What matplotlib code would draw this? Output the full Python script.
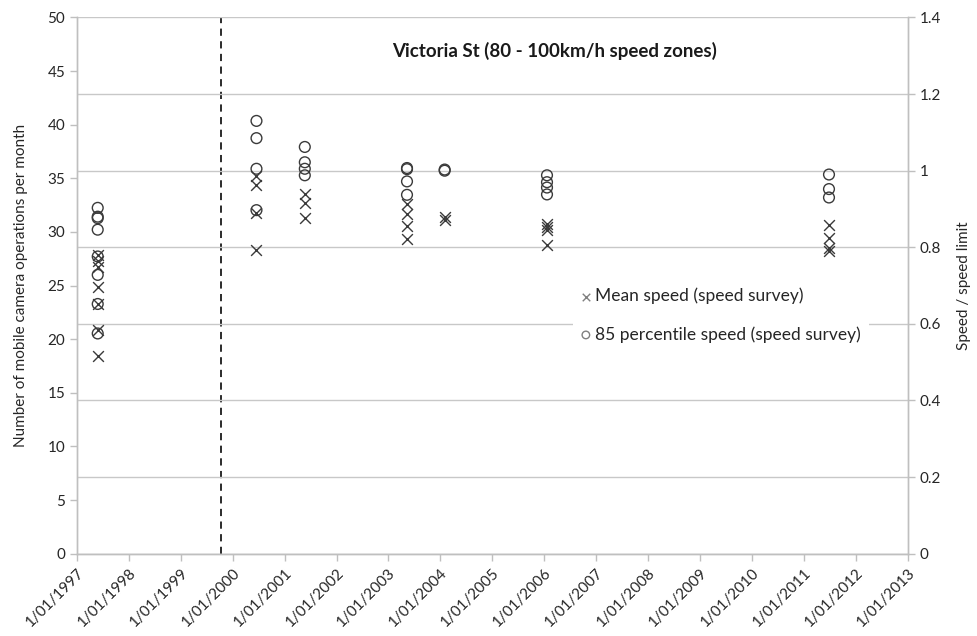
import matplotlib
matplotlib.use("Agg")
import matplotlib.pyplot as plt
import datetime as dt

plt.rcParams['font.family'] = ['Lato', 'DejaVu Sans']

# survey dates (one per cluster)
survey_dates = ["1997-05-27", "2000-06-17", "2001-05-23", "2003-05-12",
                "2004-02-01", "2006-01-21", "2011-06-28"]

# Mean speed / speed limit per survey
mean_speed = [
    [0.780, 0.765, 0.748, 0.697, 0.652, 0.583, 0.515],
    [0.987, 0.962, 0.890, 0.792],
    [0.940, 0.915, 0.876],
    [0.913, 0.887, 0.855, 0.822],
    [0.880, 0.872],
    [0.860, 0.852, 0.846, 0.805],
    [0.857, 0.823, 0.798, 0.790],
]
# 85 percentile speed / speed limit per survey
p85_speed = [
    [0.903, 0.880, 0.876, 0.846, 0.776, 0.728, 0.652, 0.575],
    [1.130, 1.085, 1.005, 0.897],
    [1.062, 1.022, 1.005, 0.988],
    [1.007, 1.004, 0.972, 0.937],
    [1.003, 1.000],
    [0.988, 0.970, 0.956, 0.938],
    [0.990, 0.952, 0.930],
]

event_date = "1999-10-10"
title = "Victoria St (80 - 100km/h speed zones)"
year_ticks = list(range(1997, 2014))
left_ticks = list(range(0, 55, 5))
right_ticks = [0, 0.2, 0.4, 0.6, 0.8, 1.0, 1.2, 1.4]
right_labels = ["0", "0.2", "0.4", "0.6", "0.8", "1", "1.2", "1.4"]

def to_dt(s):
    return dt.datetime.strptime(s, "%Y-%m-%d")

fig = plt.figure(figsize=(9.78, 6.36), dpi=100)
ax = fig.add_axes([0.0787, 0.1294, 0.8493, 0.8431])
ax2 = ax.twinx()

axis_col = "#bfbfbf"
txt_col = "#262626"

mx, my, px, py = [], [], [], []
for d, ms, ps in zip(survey_dates, mean_speed, p85_speed):
    for v in ms:
        mx.append(to_dt(d)); my.append(v)
    for v in ps:
        px.append(to_dt(d)); py.append(v)

ax2.scatter(mx, my, marker='x', s=60, color='#3a3a3a', linewidths=1.0,
            label="Mean speed (speed survey)", zorder=3)
ax2.scatter(px, py, marker='o', s=60, facecolors='none', edgecolors='#3a3a3a',
            linewidths=1.0, label="85 percentile speed (speed survey)", zorder=3)

ax.axvline(to_dt(event_date), color='#1a1a1a', linestyle=(0, (4, 3)), linewidth=1.3)

ax.set_xlim(dt.datetime(1997, 1, 1), dt.datetime(2013, 1, 1))
ax.set_ylim(0, 50)
ax2.set_ylim(0, 1.4)

ax.set_xticks([dt.datetime(y, 1, 1) for y in year_ticks])
ax.set_xticklabels([f"1/01/{y}" for y in year_ticks], rotation=45, ha='right',
                   rotation_mode='anchor', fontsize=11, color=txt_col)
ax.set_yticks(left_ticks)
ax.set_yticklabels([str(t) for t in left_ticks], fontsize=11, color=txt_col)
ax2.set_yticks(right_ticks)
ax2.set_yticklabels(right_labels, fontsize=11, color=txt_col)

ax2.yaxis.grid(True, color='#c8c8c8', linewidth=1.0)
ax2.set_axisbelow(True)

for a in (ax, ax2):
    a.spines['top'].set_visible(False)
    for s in ('left', 'right', 'bottom'):
        a.spines[s].set_color(axis_col)
        a.spines[s].set_linewidth(1.0)
    a.tick_params(axis='both', colors=axis_col, length=5, width=1.0,
                  labelcolor=txt_col, direction='out')

ax.set_ylabel("Number of mobile camera operations per month", fontsize=11,
              color=txt_col, labelpad=14)
ax2.set_ylabel("Speed / speed limit", fontsize=11, color=txt_col, labelpad=12)

ax.text(0.575, 0.937, title, transform=ax.transAxes, ha='center', va='center',
        fontsize=13.5, fontweight='bold', color='#1a1a1a')

leg = ax2.legend(loc='center left', bbox_to_anchor=(0.597, 0.445), frameon=True,
                 facecolor='white', edgecolor='none', framealpha=1.0,
                 fontsize=12.5, labelspacing=1.25, handlelength=0.5,
                 handletextpad=0.25, borderpad=0.5, borderaxespad=0,
                 markerscale=0.7, fancybox=False)
for t in leg.get_texts():
    t.set_color(txt_col)
for h in leg.legend_handles:
    try:
        h.set_edgecolor('#808080')
    except Exception:
        pass

fig.savefig("out.png", dpi=100)
